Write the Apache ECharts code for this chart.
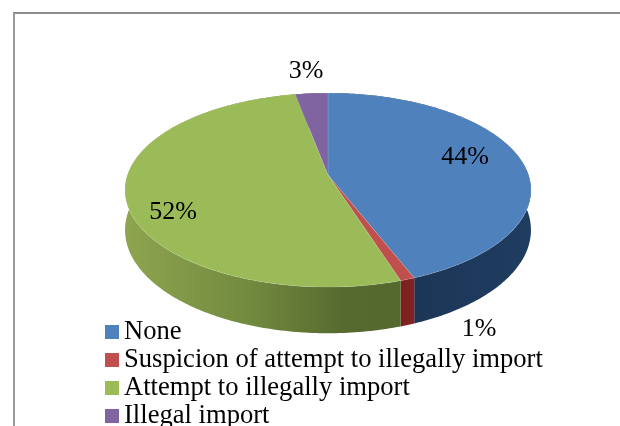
<!DOCTYPE html>
<html>
<head>
<meta charset="utf-8">
<style>html,body{margin:0;padding:0;background:#fff;overflow:hidden}#chart{width:620px;height:426px}</style>
<script src="https://cdn.jsdelivr.net/npm/echarts@6/dist/echarts.min.js"></script>
</head>
<body>
<div id="chart"></div>
<script>
// Share of cases by import status, in percent.
const categories = ['None', 'Suspicion of attempt to illegally import', 'Attempt to illegally import', 'Illegal import'];
const shares = [44, 1, 52, 3];

// Slice colours: top face, and side-wall gradient stops.
const topColors = ['#4f81bd', '#c0504d', '#9bbb59', '#8064a2'];
const wallStops = [
  [[0, '#1a3050'], [1, '#1f3d60']],
  [[0, '#7a1f1f'], [1, '#842323']],
  [[0, '#8ea44f'], [0.45, '#728a3f'], [0.8, '#56692f'], [1, '#55682e']],
  [[0, '#4c3a66'], [1, '#4c3a66']]
];

// Projection of the disc: centre, radii, perspective strength and wall depth.
const disc = { cx: 328, cy: 175, rx: 200.5, ry: 94.7, persp: 0.155, depth: 39 };
// Percent label centres.
const labelSpots = [[465, 157], [479, 329], [173, 212], [306, 71]];
const serif = '"Liberation Serif", "Times New Roman", serif';

const total = shares.reduce((a, b) => a + b, 0);

function rimPoint(angle, radius, drop) {
  const u = Math.sin(angle) * radius;
  const v = -Math.cos(angle) * radius;
  const w = 1 - disc.persp * v;
  return [disc.cx + disc.rx * u / w, disc.cy + disc.ry * v / w + (drop ? disc.depth / w : 0)];
}

function renderSlice(index, value) {
  const before = shares.slice(0, index).reduce((a, b) => a + b, 0);
  const start = before / total * Math.PI * 2;
  const end = (before + value) / total * Math.PI * 2;
  const steps = Math.max(4, Math.ceil((end - start) * 60));
  const upper = [], lower = [];
  for (let i = 0; i <= steps; i++) {
    const a = start + (end - start) * i / steps;
    upper.push(rimPoint(a, 1, false));
    lower.push(rimPoint(a, 1, true));
  }
  const xs = upper.map(p => p[0]);
  const wallFill = new echarts.graphic.LinearGradient(
    Math.min.apply(null, xs), 0, Math.max.apply(null, xs), 0,
    wallStops[index].map(s => ({ offset: s[0], color: s[1] })),
    true
  );
  return {
    type: 'group',
    children: [
      {
        type: 'polygon', z2: 1,
        shape: { points: upper.concat(lower.slice().reverse()) },
        style: { fill: wallFill, stroke: null }
      },
      {
        type: 'polygon', z2: 10,
        shape: { points: [rimPoint(0, 0, false)].concat(upper) },
        style: { fill: topColors[index], stroke: 'rgba(255,255,255,0.12)', lineWidth: 1 }
      },
      {
        type: 'text', z2: 20,
        style: {
          text: value + '%', x: labelSpots[index][0], y: labelSpots[index][1],
          align: 'center', verticalAlign: 'middle',
          font: '26px ' + serif, fill: '#000'
        }
      }
    ]
  };
}

const chart = echarts.init(document.getElementById('chart'), null, { renderer: 'canvas' });
chart.setOption({
  animation: false,
  backgroundColor: '#fff',
  legend: {
    orient: 'vertical', left: 105, top: 318, height: 200, padding: 0,
    itemWidth: 14, itemHeight: 14, itemGap: 0, icon: 'rect',
    data: categories,
    textStyle: { fontFamily: serif, fontSize: 26.6, lineHeight: 22, padding: [6, 0, 0, 0], color: '#000' }
  },
  graphic: [
    { type: 'line', shape: { x1: 13, y1: 13, x2: 620, y2: 13 }, style: { stroke: '#8c8c8c', lineWidth: 2 } },
    { type: 'line', shape: { x1: 14, y1: 13, x2: 14, y2: 426 }, style: { stroke: '#9a9a9a', lineWidth: 2 } }
  ],
  series: categories.map((name, i) => ({
    type: 'custom',
    name: name,
    coordinateSystem: 'none',
    silent: true,
    itemStyle: { color: topColors[i] },
    data: [shares[i]],
    renderItem: (params, api) => renderSlice(i, api.value(0))
  }))
});
</script>
</body>
</html>
